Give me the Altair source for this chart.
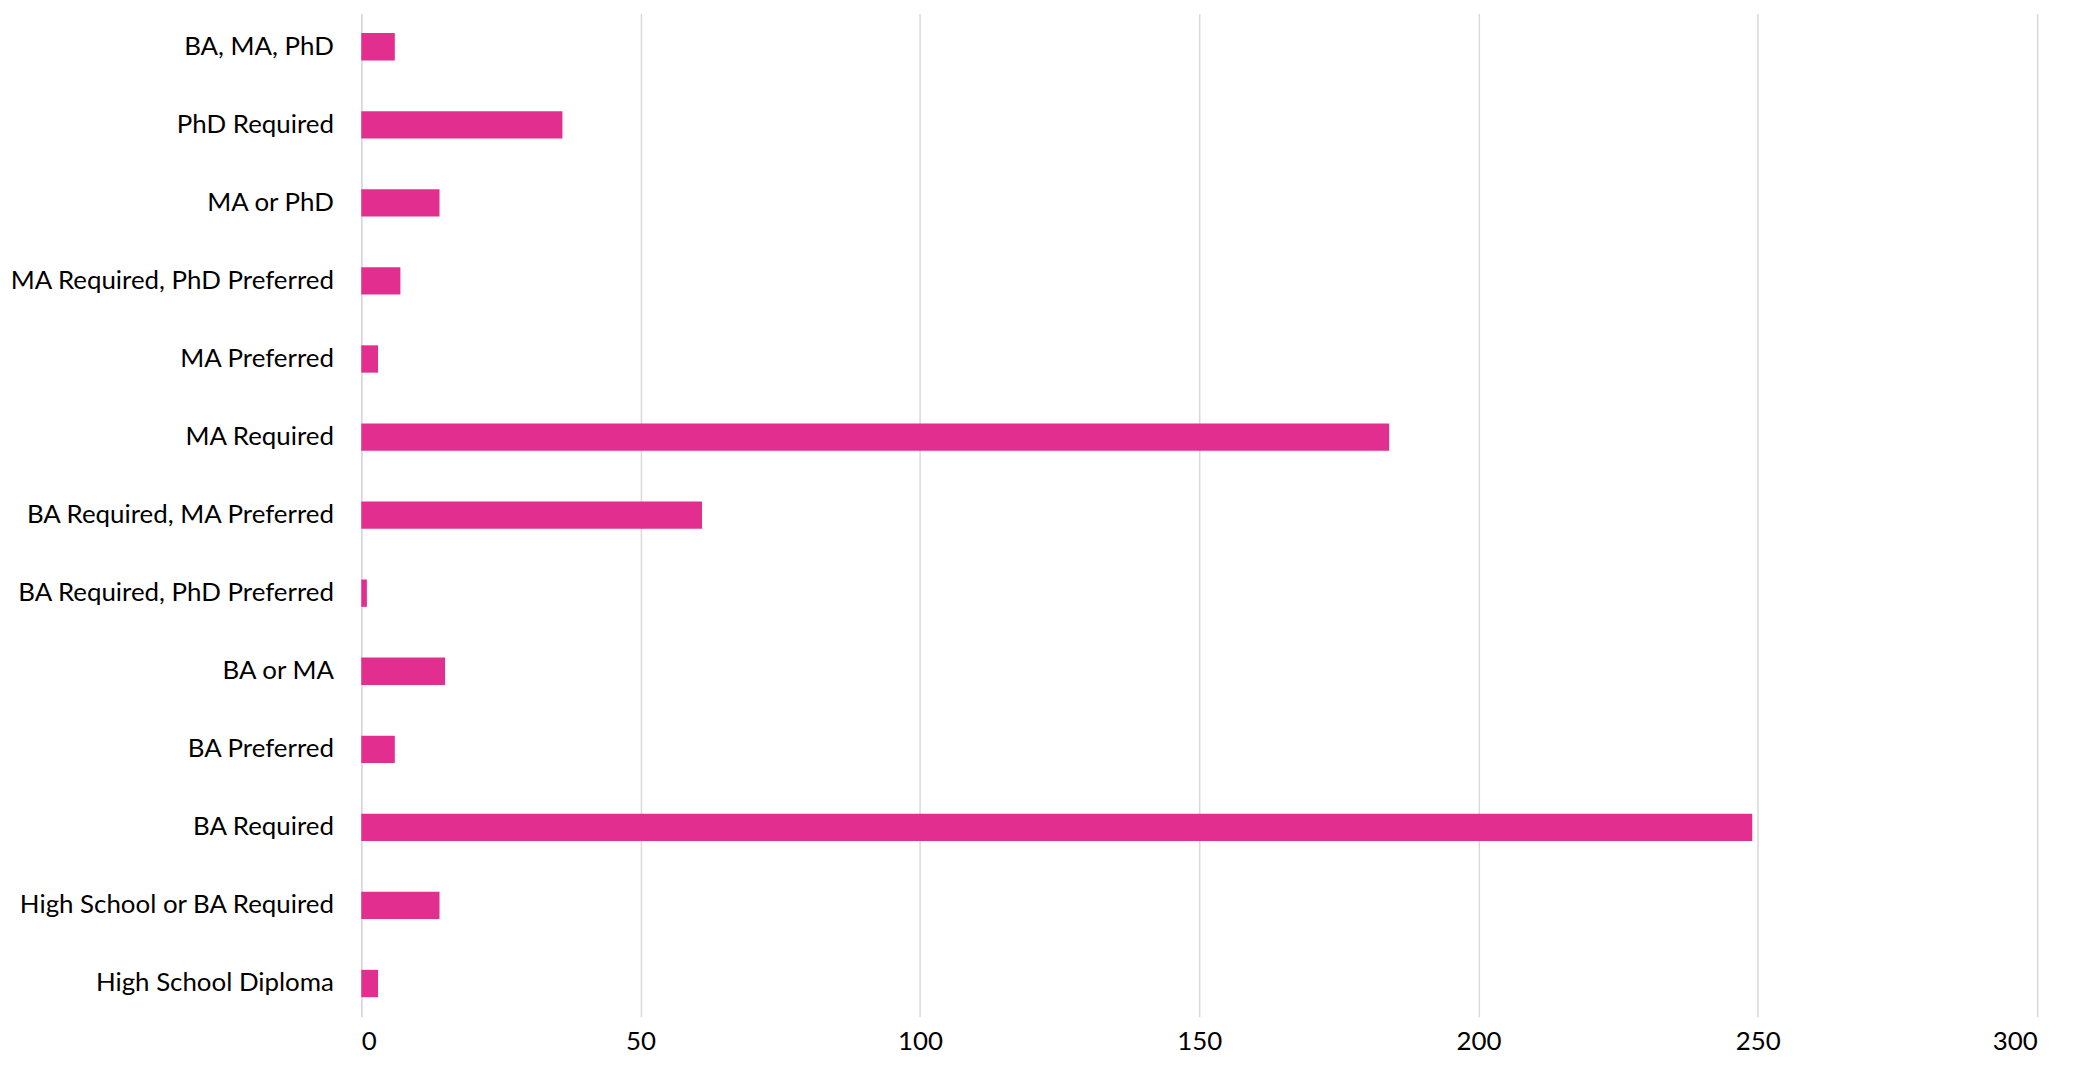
import altair as alt
import pandas as pd

categories = [
    "BA, MA, PhD",
    "PhD Required",
    "MA or PhD",
    "MA Required, PhD Preferred",
    "MA Preferred",
    "MA Required",
    "BA Required, MA Preferred",
    "BA Required, PhD Preferred",
    "BA or MA",
    "BA Preferred",
    "BA Required",
    "High School or BA Required",
    "High School Diploma",
]
values = [6, 36, 14, 7, 3, 184, 61, 1, 15, 6, 249, 14, 3]
x_ticks = [0, 50, 100, 150, 200, 250, 300]

df = pd.DataFrame({"category": categories, "value": values})

FONT = "Lato"

chart = (
    alt.Chart(df)
    .mark_bar(color="#E22E8F")
    .encode(
        x=alt.X(
            "value:Q",
            scale=alt.Scale(domain=[0, 300], nice=False),
            axis=alt.Axis(
                values=x_ticks,
                title=None,
                grid=True,
                gridColor="#D9D9D9",
                gridWidth=1.5,
                domain=False,
                ticks=False,
                labelFontSize=26,
                labelFont=FONT,
                labelColor="#000000",
                labelPadding=12,
            ),
        ),
        y=alt.Y(
            "category:N",
            sort=categories,
            scale=alt.Scale(paddingInner=0.65, paddingOuter=0.25),
            axis=alt.Axis(
                title=None,
                domain=True,
                domainColor="#D9D9D9",
                domainWidth=1.5,
                ticks=False,
                labelFontSize=26,
                labelFont=FONT,
                labelColor="#000000",
                labelPadding=28,
                labelLimit=500,
            ),
        ),
    )
    .properties(
        width=1684,
        height=1008,
        autosize=alt.AutoSizeParams(type="none"),
        padding={"left": 355, "top": 3, "right": 30, "bottom": 50},
        background="white",
    )
    .configure_view(stroke=None)
)

chart.save("out.html", embed_options={"renderer": "svg", "actions": False})
